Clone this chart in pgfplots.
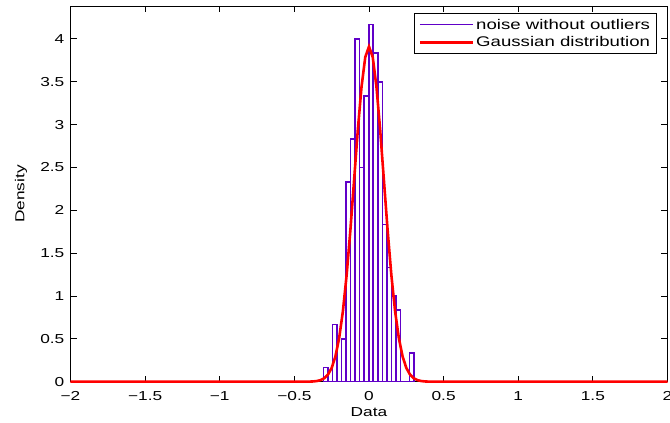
\documentclass[border=0pt]{standalone}
\usepackage{fontspec}
\setmainfont{Liberation Sans}[FakeStretch=1.33]
\usepackage{pgfplots}
\pgfplotsset{compat=1.18}
\definecolor{barpurple}{RGB}{96,0,200}
\begin{document}
\begin{tikzpicture}
\begin{axis}[name=ax, at={(0pt,0pt)}, anchor=south west,
  scale only axis, width=597pt, height=375.4pt,
  xmin=-2, xmax=2, ymin=0, ymax=4.38,
  clip=false,
  xtick={-2,-1.5,-1,-0.5,0,0.5,1,1.5,2},
  xticklabels={−2,−1.5,−1,−0.5,0,0.5,1,1.5,2},
  ytick={0,0.5,1,1.5,2,2.5,3,3.5,4},
  yticklabels={0,0.5,1,1.5,2,2.5,3,3.5,4},
  tick align=inside, major tick length=6pt,
  tick style={black, line width=0.8pt},
  axis line style={black, line width=0.9pt},
  font=\fontsize{13}{15}\selectfont,
  xticklabel style={inner sep=0pt, anchor=north, yshift=-10pt},
  yticklabel style={inner sep=0pt, anchor=east, xshift=-6pt},
  xlabel={Data}, ylabel={Density},
  every axis x label/.style={at={(axis description cs:0.5,-0.0914)}, anchor=base, inner sep=0pt},
  every axis y label/.style={at={(axis description cs:-0.0829,0.5)}, anchor=center, rotate=90, inner sep=0pt},
  legend style={draw=black, line width=0.8pt, fill=white,
    at={(axis description cs:1,1)}, anchor=north east, xshift=-11pt, yshift=-7pt,
    inner xsep=4pt, inner ysep=3.2pt, row sep=2pt, cells={anchor=west},
    font=\fontsize{14}{16}\selectfont,
    /tikz/every even column/.append style={column sep=2pt}},
]
\addplot[ybar interval, draw=barpurple, fill=white, line width=1.6pt,
  legend image code/.code={\draw[barpurple, line width=0.9pt] (12pt,0pt) -- (65pt,0pt);}]
coordinates {
(-0.3060,0.1667) (-0.2756,0) (-0.2452,0.6667) (-0.2148,0) (-0.1844,0.5)
(-0.1540,2.3333) (-0.1236,2.8333) (-0.0932,4.0) (-0.0628,2.5) (-0.0324,3.3333)
(-0.0020,4.1667) (0.0284,3.8333) (0.0588,3.5) (0.0892,1.8333) (0.1196,1.3333)
(0.1500,1.0) (0.1804,0.8333) (0.2108,0) (0.2412,0) (0.2716,0.3333) (0.3020,0.3333)
};
\addlegendentry{noise without outliers}
\addplot[red, line width=2.6pt,
  legend image code/.code={\draw[red, line width=2.6pt] (12pt,0pt) -- (65pt,0pt);}]
coordinates {
(-2,0) (-0.5,0) (-0.45,0.0001) (-0.4,0.0011) (-0.375,0.0030) (-0.35,0.0076)
(-0.325,0.0179) (-0.3,0.0396) (-0.275,0.0825) (-0.25,0.161) (-0.225,0.295)
(-0.2,0.508) (-0.175,0.820) (-0.15,1.241) (-0.125,1.762) (-0.1,2.348)
(-0.075,2.935) (-0.05,3.442) (-0.025,3.787) (0,3.91)
(0.025,3.787) (0.05,3.442) (0.075,2.935) (0.1,2.348) (0.125,1.762)
(0.15,1.241) (0.175,0.820) (0.2,0.508) (0.225,0.295) (0.25,0.161)
(0.275,0.0825) (0.3,0.0396) (0.325,0.0179) (0.35,0.0076) (0.375,0.0030)
(0.4,0.0011) (0.45,0.0001) (0.5,0) (2,0)
};
\addlegendentry{Gaussian distribution}
\end{axis}
\pgfresetboundingbox
\useasboundingbox (-70.5pt,-41.3pt) rectangle (599.5pt,381.7pt);
\end{tikzpicture}
\end{document}
